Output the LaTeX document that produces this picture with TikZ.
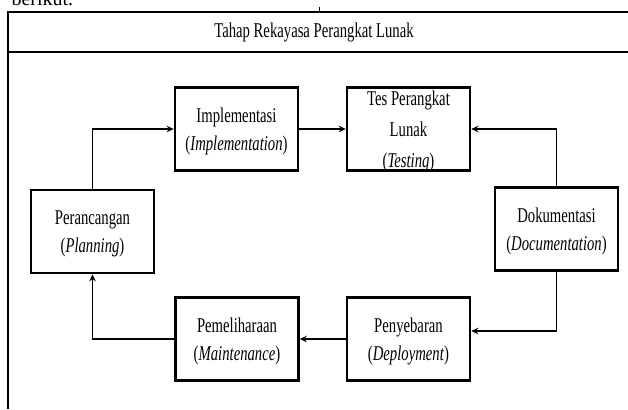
\documentclass[tikz,border=0pt]{standalone}
\usepackage{fontspec}
\setmainfont{Liberation Serif}
\newfontfamily\sempit{Liberation Serif}[FakeStretch=0.7]
\usetikzlibrary{positioning, arrows.meta}

\begin{document}
\begin{tikzpicture}[x=1pt,y=-1pt,on grid,
    every node/.style={font=\sempit\fontsize{21}{28}\selectfont},
    tahap/.style={draw,line width=2.6pt,minimum width=123pt,minimum height=83pt,
                  align=center,inner sep=0pt,text depth=0pt,
                  execute at begin node=\rule{0pt}{26pt}}]
  \tikzset{alur/.style={draw,line width=1.9pt,->}, >={Stealth[length=7pt,width=6.5pt]}}
  \useasboundingbox (0,0) rectangle (628,409);

  % bingkai tabel
  \node[font=\fontsize{20}{24}\selectfont,anchor=base west] (teks) at (8,6) {berikut.};
  \draw[line width=1.9pt] (628,12) -- (8,12) -- (8,409);
  \draw[line width=1.9pt] (8,52) -- (628,52);
  \draw[line width=1pt] (319,7) -- (319,12);
  \node (judul) at (314,32) {Tahap Rekayasa Perangkat Lunak};

  \node[tahap] (impl)                                    at (236.5,129) {Implementasi\\(\textit{Implementation})};
  \node[tahap,font=\sempit\fontsize{21}{31}\selectfont]
               (tes)      [right       = 172pt of impl]              {Tes Perangkat\\Lunak\\(\textit{Testing})};
  \node[tahap] (dok)      [below right = 100pt and 148pt of tes]     {Dokumentasi\\(\textit{Documentation})};
  \node[tahap] (sebar)    [below       = 210pt of tes]               {Penyebaran\\(\textit{Deployment})};
  \node[tahap] (pelihara) [left        = 171.5pt of sebar]           {Pemeliharaan\\(\textit{Maintenance})};
  \node[tahap] (rancang)  [below left  = 102.5pt and 144pt of impl]  {Perancangan\\(\textit{Planning})};

  \draw[alur] (rancang) |- (impl);
  \draw[alur] (impl) -- (tes);
  \draw[alur] (dok) |- (tes);
  \draw[alur] (dok) |- ([yshift=8pt]sebar.east);
  \draw[alur] (sebar) -- (pelihara);
  \draw[alur] (pelihara) -| (rancang);
\end{tikzpicture}
\end{document}
